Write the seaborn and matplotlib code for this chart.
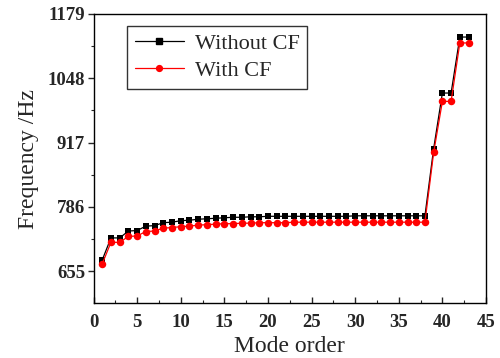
import numpy as np
import pandas as pd
import matplotlib
matplotlib.use("Agg")
import matplotlib.pyplot as plt
import seaborn as sns
from matplotlib.ticker import MultipleLocator
from matplotlib.lines import Line2D

modes = list(range(1, 44))
without_cf = [678, 723, 723, 737, 738, 747, 748, 754, 755, 758, 759, 761, 762, 763, 764,
              765, 765, 766, 766, 767, 767, 767, 767, 767, 767, 767, 767, 767, 767, 768,
              768, 768, 768, 768, 768, 768, 768, 768, 905, 1018, 1018, 1132, 1132]
with_cf = [670, 714, 714, 726, 727, 736, 737, 743, 744, 746, 747, 749, 750, 751, 752,
           752, 753, 753, 754, 754, 754, 754, 755, 755, 755, 755, 755, 755, 755, 755,
           755, 755, 755, 755, 755, 755, 755, 755, 897, 1001, 1001, 1120, 1120]
series_names = ["Without CF", "With CF"]
y_ticks = [655, 786, 917, 1048, 1179]
x_ticks = list(range(0, 50, 5))

df = pd.DataFrame({
    "mode": modes * 2,
    "freq": without_cf + with_cf,
    "series": [series_names[0]] * len(modes) + [series_names[1]] * len(modes),
})

sns.set_style("ticks")
plt.rcParams["font.family"] = ["Liberation Serif", "DejaVu Serif"]

fig = plt.figure(figsize=(5.0, 3.58), dpi=100)
ax = fig.add_axes([0.187, 0.153, 0.785, 0.808])

sns.lineplot(data=df, x="mode", y="freq", hue="series", style="series",
             palette={"Without CF": "black", "With CF": "red"},
             markers={"Without CF": "s", "With CF": "o"}, dashes=False,
             markersize=4.8, linewidth=0.9, markeredgewidth=0, ax=ax, legend=False)
lines = ax.get_lines()
lines[0].set_markersize(4.4)
lines[1].set_markersize(5.4)

ax.set_xlim(0, 45)
ax.set_ylim(590, 1179)
ax.set_xticks(x_ticks)
ax.set_yticks(y_ticks)
ax.xaxis.set_minor_locator(MultipleLocator(2.5))
ax.yaxis.set_minor_locator(MultipleLocator(65.5))

for sp in ax.spines.values():
    sp.set_linewidth(1.0)
    sp.set_color("black")

ax.tick_params(axis="x", which="major", direction="in", length=4, width=1, top=False, pad=8)
ax.tick_params(axis="x", which="minor", direction="in", length=2, width=0.8, top=False)
ax.tick_params(axis="y", which="major", direction="out", length=4, width=1, right=False, pad=2)
ax.tick_params(axis="y", which="minor", direction="out", length=2, width=0.8, right=False)
for lab in ax.get_xticklabels() + ax.get_yticklabels():
    lab.set_fontweight("bold")
    lab.set_fontsize(13.5)

ax.set_xlabel("Mode order", fontsize=17, labelpad=3)
ax.set_ylabel("Frequency /Hz", fontsize=17, labelpad=6)

handles = [Line2D([], [], color="black", marker="s", markersize=4.2, linewidth=0.9),
           Line2D([], [], color="red", marker="o", markersize=4.2, linewidth=0.9)]
leg = ax.legend(handles, series_names, loc="upper left", bbox_to_anchor=(0.085, 0.96),
                fontsize=16, frameon=True, fancybox=False, edgecolor="black",
                handlelength=2.2, handletextpad=0.5, borderpad=0.35, labelspacing=0.3,
                borderaxespad=0)
leg.get_frame().set_linewidth(1.0)

fig.savefig("out.png", dpi=100)
